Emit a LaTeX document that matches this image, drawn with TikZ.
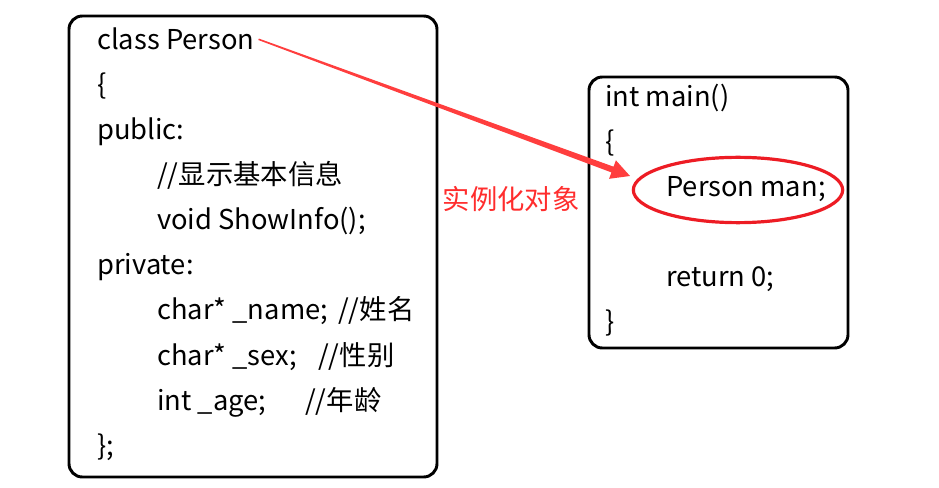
\documentclass[tikz,border=0pt]{standalone}
\usepackage{fontspec}
\setmainfont{Noto Sans CJK SC}
\usetikzlibrary{shapes.geometric,positioning,calc,fit}
\definecolor{arrred}{RGB}{255,62,62}
\definecolor{ringred}{RGB}{237,28,36}
\definecolor{lblred}{RGB}{255,45,45}
\newcommand{\cmtat}[2]{\makebox[#1][l]{#2}}
\tikzset{
	every node/.style = { inner sep=0 },
	ln/.style = { anchor=base west, font=\fontsize{20.5pt}{24pt}\selectfont },
	box/.style = { draw, rounded corners=10pt, line width=2.2pt, inner sep=0, fit=#1 },
	ring/.style = { ellipse, draw=ringred, line width=2.4pt, minimum width=157pt, minimum height=49pt },
	lbl/.style = { text=lblred, font=\fontsize{20.5pt}{24pt}\selectfont },
	thinarrow/.style = { fill=arrred },
}

\begin{document}
\begin{tikzpicture}[x=0.75pt,y=-0.75pt]
\useasboundingbox (0,0) rectangle (939,488);

% class Person
\node (l1)  [ln] at (97,50)   {class Person};
\node (l2)  [ln] at (97,95)   {\{};
\node (l3)  [ln] at (97,140)  {public:};
\node (l4)  [ln] at (157,185) {//显示基本信息};
\node (l5)  [ln] at (157,230) {void ShowInfo();};
\node (l6)  [ln] at (97,275)  {private:};
\node (l7)  [ln] at (157,320) {\cmtat{135.75pt}{char* \_name;}//姓名};
\node (l8)  [ln] at (157,365) {\cmtat{120.75pt}{char* \_sex;}//性别};
\node (l9)  [ln] at (157,410) {\cmtat{111pt}{int \_age;}//年龄};
\node (l10) [ln] at (97,455)  {\};};

\coordinate (cbtl) at (69,16);
\coordinate (cbbr) at (437,477);
\node (classbox) [box={(cbtl)(cbbr)}] {};

% main
\node (m1) [ln] at (605,107) {int main()};
\node (m2) [ln] at (605,152) {\{};
\node (m3) [ln] at (666,197) {Person man;};
\node (m4) [ln] at (666,287) {return 0;};
\node (m5) [ln] at (605,332) {\}};

\coordinate (mbtl) at (589,77);
\coordinate (mbbr) at (848,348);
\node (mainbox) [box={(mbtl)(mbbr)}] {};

\node (obj) [ring] at (738,190) {};
\node (lbl) [lbl]  at (511,199) {实例化对象};

% tapered arrow
\coordinate (tail) at ([xshift=3pt]l1.east);
\coordinate (tip)  at ($(obj.center)+(-108,-14)$);
\coordinate (neck) at ($(tip)!14pt!(tail)$);
\fill[thinarrow] ($(tail)!0.6pt!90:(tip)$) -- ($(neck)!2.3pt!90:(tip)$) -- ($(neck)!7.4pt!90:(tip)$)
  -- (tip) -- ($(neck)!7.4pt!-90:(tip)$) -- ($(neck)!2.3pt!-90:(tip)$) -- ($(tail)!0.6pt!-90:(tip)$) -- cycle;

\end{tikzpicture}
\end{document}
